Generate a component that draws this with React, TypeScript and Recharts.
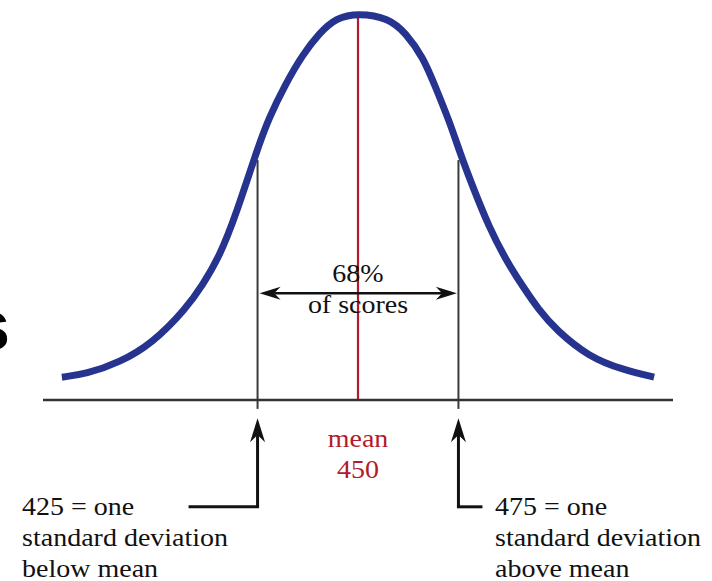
import { ComposedChart, Line, XAxis, YAxis, ReferenceLine, ReferenceDot } from "recharts";

// bell curve: test score vs relative height (peak = 100)
const scores = [
  376.3, 382.3, 390.5, 398.9, 407.2, 411.3, 415.5, 419.6, 424.6, 427.8, 432.1, 436.2, 440.4, 444.5,
  450, 457.7, 461.9, 466.2, 469.4, 472.9, 475.4, 478.6, 482.6, 486.8, 491.1, 495.0, 499.3, 507.5, 516.0, 523.7,
];
const heights = [
  5.9, 6.7, 9.6, 14.7, 23.6, 29.7, 37.0, 47.8, 63.8, 72.9, 81.9, 89.2, 94.8, 98.7,
  100, 98.7, 94.8, 88.6, 80.6, 71.6, 63.8, 55.0, 44.7, 36.2, 29.2, 23.3, 18.1, 11.1, 7.8, 5.9,
];

const mean = 450;
const sdMarks = [425, 475];
const sdHeight = 62;

const meanLabel = ["mean", "450"];
const rangeLabel = ["68%", "of scores"];
const lowLabel = ["425 = one", "standard deviation", "below mean"];
const highLabel = ["475 = one", "standard deviation", "above mean"];

const data = scores.map((s, i) => ({ score: s, h: heights[i] }));

const BLUE = "#26348f";
const RED = "#b3192c";
const INK = "#111";
const SERIF = "'Liberation Serif', 'Times New Roman', serif";

function arrow(heads: "start" | "both", width: number, len: number, half: number) {
  return (p: any) => {
    const { x1, y1, x2, y2 } = p;
    const L = Math.hypot(x2 - x1, y2 - y1) || 1;
    const dx = (x2 - x1) / L;
    const dy = (y2 - y1) / L;
    const head = (tx: number, ty: number, ux: number, uy: number) => {
      // ux,uy points from the tip back along the shaft
      const bx = tx + ux * len;
      const by = ty + uy * len;
      const nx = -uy * half;
      const ny = ux * half;
      const mx = tx + ux * len * 0.7;
      const my = ty + uy * len * 0.7;
      return `M${tx},${ty} L${bx + nx},${by + ny} L${mx},${my} L${bx - nx},${by - ny} Z`;
    };
    const sx = x1 + dx * len * 0.7;
    const sy = y1 + dy * len * 0.7;
    const ex = heads === "both" ? x2 - dx * len * 0.7 : x2;
    const ey = heads === "both" ? y2 - dy * len * 0.7 : y2;
    return (
      <g>
        <line x1={sx} y1={sy} x2={ex} y2={ey} stroke={INK} strokeWidth={width} />
        <path d={head(x1, y1, dx, dy)} fill={INK} />
        {heads === "both" && <path d={head(x2, y2, -dx, -dy)} fill={INK} />}
      </g>
    );
  };
}

function textBlock(lines: string[], anchor: "start" | "middle", color: string) {
  return (p: any) => (
    <text
      transform={`translate(${p.cx},${p.cy}) scale(1.12,1)`}
      textAnchor={anchor}
      fontFamily={SERIF}
      fontSize={25}
      fill={color}
    >
      {lines.map((t, i) => (
        <tspan key={i} x={0} dy={i === 0 ? 0 : 31}>
          {t}
        </tspan>
      ))}
    </text>
  );
}

export default function App() {
  return (
    <div style={{ position: "absolute", left: 0, top: 0, width: 712, height: 581, background: "#fff" }}>
      <ComposedChart width={712} height={581} data={data} margin={{ top: 13, right: 39, bottom: 181, left: 43 }}>
        <XAxis type="number" dataKey="score" domain={[371.6, 528.4]} hide />
        <YAxis type="number" domain={[0, 100]} hide />

        {sdMarks.map((x) => (
          <ReferenceLine
            key={x}
            segment={[{ x, y: sdHeight }, { x, y: -2.3 }]}
            ifOverflow="visible"
            stroke="#3a3a3a"
            strokeWidth={2}
          />
        ))}
        <ReferenceLine
          segment={[{ x: mean, y: 99.2 }, { x: mean, y: 0 }]}
          ifOverflow="visible"
          stroke={RED}
          strokeWidth={2.2}
        />
        <ReferenceLine y={0} stroke="#333" strokeWidth={2.5} ifOverflow="visible" />

        {/* 68% double arrow */}
        <ReferenceLine
          segment={[{ x: 425.5, y: 27.6 }, { x: 474.6, y: 27.6 }]}
          ifOverflow="visible"
          shape={arrow("both", 2.5, 21, 6.5)}
        />

        {/* pointers to the sd ticks */}
        <ReferenceLine
          segment={[{ x: 425, y: -4.7 }, { x: 425, y: -27.6 }]}
          ifOverflow="visible"
          shape={arrow("start", 3, 24, 7.5)}
        />
        <ReferenceLine
          segment={[{ x: 408.2, y: -27.6 }, { x: 425, y: -27.6 }]}
          ifOverflow="visible"
          stroke={INK}
          strokeWidth={3}
          strokeLinecap="square"
        />
        <ReferenceLine
          segment={[{ x: 475, y: -4.7 }, { x: 475, y: -27.6 }]}
          ifOverflow="visible"
          shape={arrow("start", 3, 24, 7.5)}
        />
        <ReferenceLine
          segment={[{ x: 475, y: -27.6 }, { x: 480.6, y: -27.6 }]}
          ifOverflow="visible"
          stroke={INK}
          strokeWidth={3}
          strokeLinecap="square"
        />

        <Line
          type="basis"
          dataKey="h"
          stroke={BLUE}
          strokeWidth={7}
          dot={false}
          activeDot={false}
          isAnimationActive={false}
        />

        <ReferenceDot x={450} y={30.5} r={0} ifOverflow="visible" shape={textBlock(rangeLabel, "middle", INK)} />
        <ReferenceDot x={450} y={-12.1} r={0} ifOverflow="visible" shape={textBlock(meanLabel, "middle", RED)} />
        <ReferenceDot x={366.4} y={-29.7} r={0} ifOverflow="visible" shape={textBlock(lowLabel, "start", INK)} />
        <ReferenceDot x={484.1} y={-29.7} r={0} ifOverflow="visible" shape={textBlock(highLabel, "start", INK)} />
        <ReferenceDot
          x={363.4}
          y={12.9}
          r={0}
          ifOverflow="visible"
          shape={(p: any) => (
            <text x={p.cx} y={p.cy} textAnchor="end" fontFamily="'Liberation Sans', Arial, sans-serif" fontWeight="bold" fontSize={73} fill="#000">
              s
            </text>
          )}
        />
      </ComposedChart>
    </div>
  );
}
